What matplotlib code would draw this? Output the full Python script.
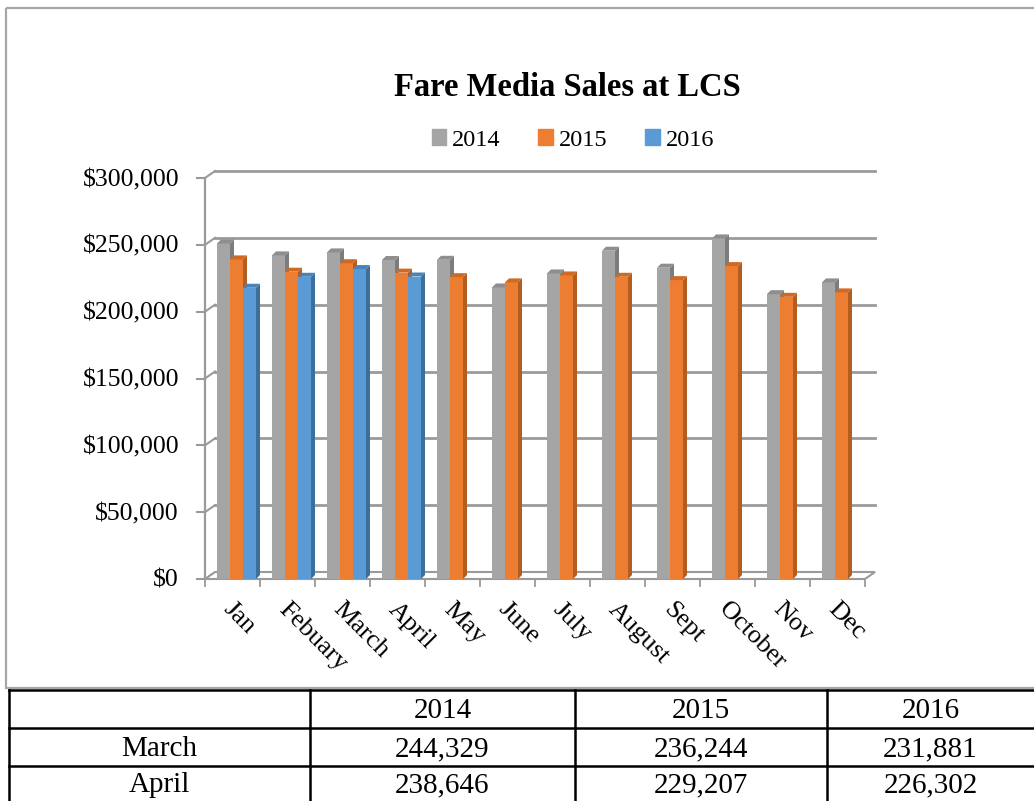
# Fare Media Sales at LCS - monthly sales 2014-2016, with March/April table
import matplotlib.pyplot as plt
from matplotlib.patches import Patch, Polygon, Rectangle

plt.rcParams['font.family'] = ['Liberation Serif', 'DejaVu Serif']

meses = ['Jan', 'Febuary', 'March', 'April', 'May', 'June', 'July',
         'August', 'Sept', 'October', 'Nov', 'Dec']
anos = ['2014', '2015', '2016']
v2014 = [251000, 242100, 244329, 238646, 238800, 218100, 228600,
         245600, 232900, 254800, 213100, 221900]
v2015 = [239100, 229900, 236244, 229207, 225800, 221900, 227100,
         226100, 223600, 234100, 211100, 214400]
v2016 = [217900, 226100, 231881, 226302]
yticks = [0, 50000, 100000, 150000, 200000, 250000, 300000]
linhas_tabela = ['March', 'April']

cores = ['#a5a5a5', '#ed7d31', '#5b9bd5']
lados = ['#7c7c7c', '#b45d20', '#3c6f9e']
topos = ['#8e8e8e', '#cf6a25', '#4a83ba']

W, H = 1034, 801
fig = plt.figure(figsize=(W / 100, H / 100), dpi=100)

# fundo: moldura do gráfico e tabela (coordenadas em pixels)
bg = fig.add_axes([0, 0, 1, 1])
bg.set_xlim(0, W)
bg.set_ylim(H, 0)
bg.axis('off')
bg.add_patch(Rectangle((6, 8), W, 680, fill=False, ec='#a6a6a6', lw=1.6))

# eixo do gráfico: plano da frente de x=205 a 865, y=579 ($0) a 178 ($300k)
x0, x1, y0, y1 = 205, 865, 579, 178
ax = fig.add_axes([x0 / W, 1 - y0 / H, (x1 - x0) / W, (y0 - y1) / H])
ax.set_xlim(0, 12)
ax.set_ylim(0, 300000)
ax.axis('off')

cx = 12 / (x1 - x0)          # categorias por pixel
cy = 300000 / (y0 - y1)      # valor por pixel
wx, wy = 10 * cx, 7 * cy     # profundidade da parede do fundo
bx, by = 4 * cx, 4 * cy      # profundidade das barras
grid = '#9a9a9a'

# grade na parede do fundo e ligação com o eixo da frente
for v in yticks[1:]:
    ax.plot([wx, 12 + wx], [v + wy, v + wy], color=grid, lw=2, clip_on=False, zorder=1)
    ax.plot([0, wx], [v, v + wy], color=grid, lw=1.5, clip_on=False, zorder=1)
for v in yticks:
    ax.plot([-8 * cx, 0], [v, v], color=grid, lw=1.5, clip_on=False, zorder=1)
    ax.text(-26 * cx, v - 2 * cy, '${:,}'.format(v), ha='right', va='center', fontsize=18.5)
ax.plot([0, 0], [0, 300000], color=grid, lw=1.6, clip_on=False, zorder=1)

# piso
ax.add_patch(Polygon([(0, 0), (12, 0), (12 + wx, wy), (wx, wy)], closed=True,
                     fc='white', ec=grid, lw=1.5, clip_on=False, zorder=1))
for i in range(13):
    ax.plot([i, i], [0, -7 * cy], color=grid, lw=1.3, clip_on=False, zorder=1)

# barras com profundidade
w = 13 * cx
series = [v2014, v2015, v2016]
z = 2
for i in range(12):
    for s, vals in enumerate(series):
        if i >= len(vals):
            continue
        v = vals[i]
        xl = i + 12 * cx + s * w
        ax.bar(xl, v, width=w, align='edge', color=cores[s], lw=0, zorder=z)
        ax.add_patch(Polygon([(xl + w, 0), (xl + w + bx, by), (xl + w + bx, v + by), (xl + w, v)],
                             closed=True, fc=lados[s], lw=0, zorder=z))
        ax.add_patch(Polygon([(xl, v), (xl + w, v), (xl + w + bx, v + by), (xl + bx, v + by)],
                             closed=True, fc=topos[s], lw=0, zorder=z))
        z += 1

for i, m in enumerate(meses):
    ax.text(i + 0.5 + 2 * cx, -19 * cy, m, rotation=-45, rotation_mode='anchor',
            ha='left', va='top', fontsize=19)

fig.text(567 / W, 1 - 88 / H, 'Fare Media Sales at LCS', ha='center', va='center',
         fontsize=23.5, fontweight='bold')
fig.legend(handles=[Patch(color=c, label=a) for c, a in zip(cores, anos)],
           loc='center', bbox_to_anchor=(573 / W, 1 - 140 / H), ncol=3, frameon=False,
           fontsize=17.5, handlelength=0.6, handleheight=0.6, handletextpad=0.25,
           columnspacing=1.55)

# tabela março / abril
cols = [9, 310, 575, 827, W + 5]
rows = [690, 728, 766, H + 5]
for yy in rows[:-1]:
    bg.plot([cols[0], cols[-1]], [yy, yy], color='black', lw=1.8)
for xx in cols[:-1]:
    bg.plot([xx, xx], [rows[0], rows[-1]], color='black', lw=1.8)

celulas = [[''] + anos]
for k, nome in enumerate(linhas_tabela):
    mi = meses.index(nome)
    celulas.append([nome] + ['{:,}'.format(vals[mi]) for vals in series])
for r, linha in enumerate(celulas):
    for c, txt in enumerate(linha):
        bg.text((cols[c] + min(cols[c + 1], W)) / 2, (rows[r] + rows[r + 1] - (5 if r == 2 else 0)) / 2 + 2,
                txt, ha='center', va='center', fontsize=21)

plt.savefig('out.png', dpi=100)
